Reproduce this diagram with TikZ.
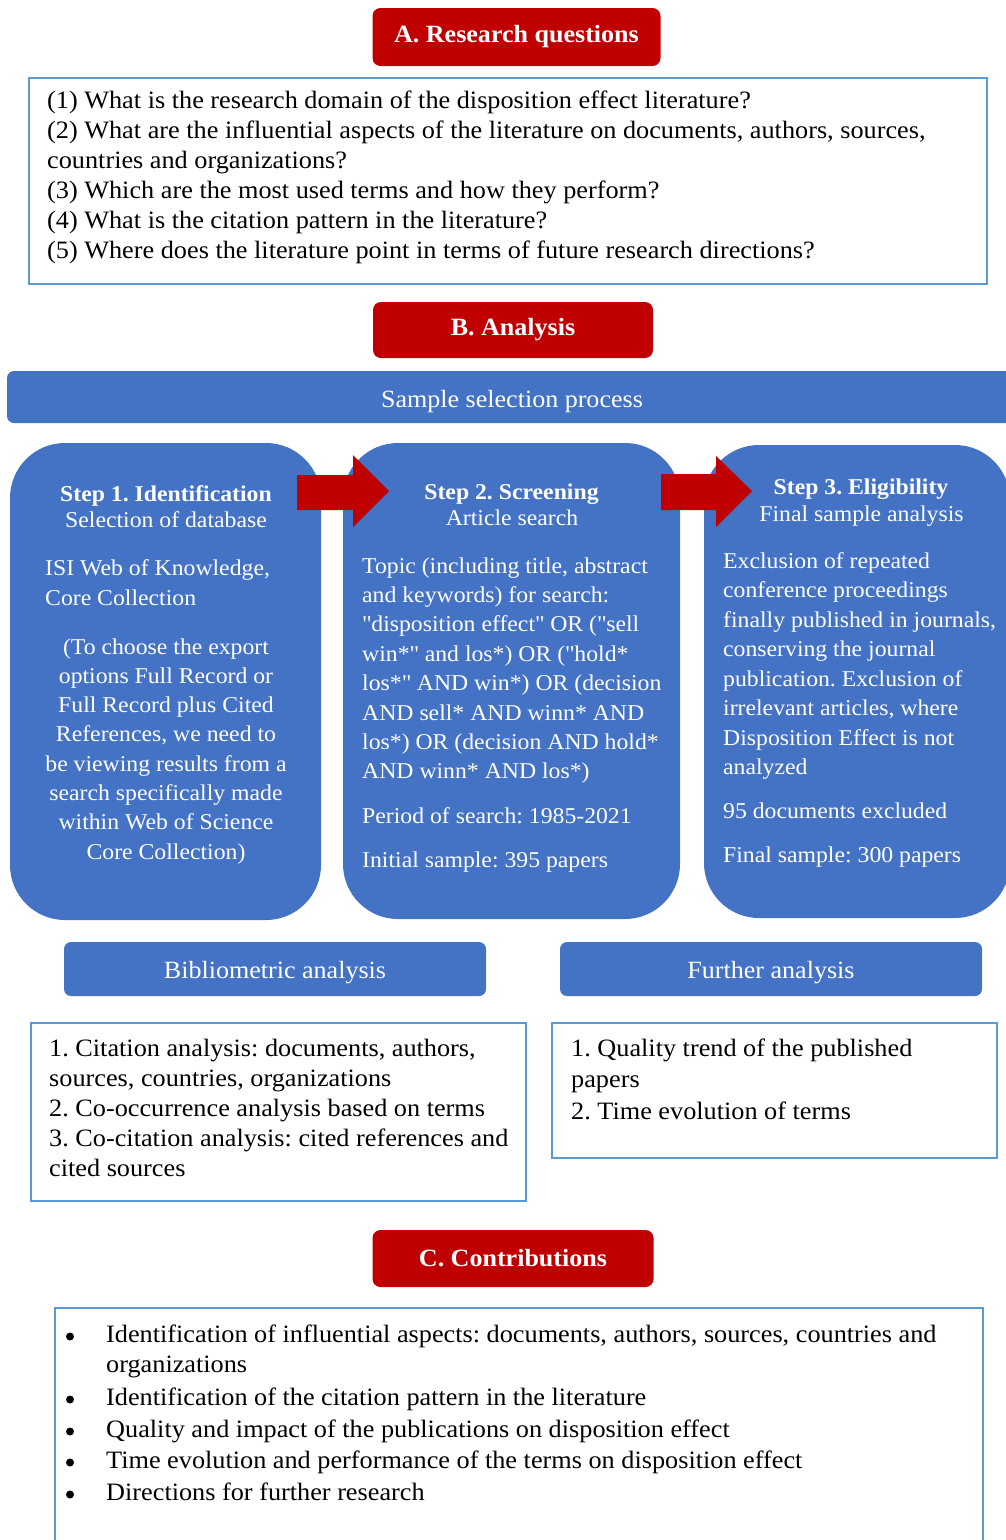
\documentclass[tikz,border=0pt]{standalone}
\usepackage{fontspec}
\setmainfont{Liberation Serif}[FakeStretch=1.05]
\definecolor{hdrred}{HTML}{C00000}
\definecolor{boxblue}{HTML}{4472C4}
\definecolor{lineblue}{HTML}{5B9BD5}
\newcommand\fsz[2]{\fontsize{#1}{#2}\selectfont}
\newcommand\qd{\textquotedbl}
\newcommand\lblk[4]{\parbox[t]{#1}{\raggedright\fsz{#2}{#3}#4\par}}
\newcommand\cblk[4]{\parbox[t]{#1}{\centering\fsz{#2}{#3}#4\par}}
\frenchspacing
\begin{document}
\frenchspacing
\begin{tikzpicture}[x=1pt,y=-1pt,
  hdr/.style={fill=hdrred, rounded corners=8pt, inner sep=0pt, text=white, font=\fsz{24.8}{28}\bfseries},
  bar/.style={fill=boxblue, rounded corners=7pt, inner sep=0pt},
  stepbox/.style={fill=boxblue, rounded corners=55pt, inner sep=0pt},
  frame/.style={draw=lineblue, line width=1.3pt, inner sep=0pt},
  txt/.style={inner sep=0pt, anchor=base west},
  ctxt/.style={inner sep=0pt, anchor=base},
  wtxt/.style={txt, text=white},
  wctxt/.style={ctxt, text=white},
  redarrow/.style={fill=hdrred},
  bul/.style={circle, fill=black, inner sep=0pt, minimum size=8pt}
]
\clip (0,0) rectangle (1006,1540);
\fill[white] (0,0) rectangle (1006,1540);

% ---------- A ----------
\node[hdr, minimum width=288, minimum height=58] (hA) at (516.5,37) {A. Research questions};
\node[frame, minimum width=958, minimum height=206] (qbox) at (508,181) {};
\node[txt] (qtext) at (47,108) {\lblk{940pt}{25}{30pt}{%
(1) What is the research domain of the disposition effect literature?\\
(2) What are the influential aspects of the literature on documents, authors, sources,\\
countries and organizations?\\
(3) Which are the most used terms and how they perform?\\
(4) What is the citation pattern in the literature?\\
(5) Where does the literature point in terms of future research directions?}};

% ---------- B ----------
\node[hdr, minimum width=280, minimum height=56] (hB) at (513,330) {B. Analysis};
\node[bar, minimum width=1013, minimum height=52] (sbar) at (513.5,397) {};
\node[wctxt, font=\fsz{24.8}{28}] (stxt) at (512,407) {Sample selection process};

\node[stepbox, minimum width=311, minimum height=477] (s1) at (165.5,681.5) {};
\node[stepbox, minimum width=337, minimum height=476] (s2) at (511.5,681) {};
\node[stepbox, minimum width=306, minimum height=473] (s3) at (857,681.5) {};

% arrows
\fill[redarrow] (297,475) -- (353,475) -- (353,455) -- (389,491) -- (353,527) -- (353,510) -- (297,510) -- cycle;
\fill[redarrow] (661,474) -- (716,474) -- (716,456) -- (752,491) -- (716,527) -- (716,510) -- (661,510) -- cycle;

% step 1
\node[wctxt] (s1t) at (166,501) {\fsz{22.6}{26}\bfseries Step 1. Identification};
\node[wctxt] (s1s) at (166,527) {\fsz{22.6}{26}Selection of database};
\node[wtxt] (s1a) at (45,575) {\lblk{270pt}{22.6}{30pt}{ISI Web of Knowledge,\\Core Collection}};
\node[wctxt] (s1b) at (166,654) {\cblk{300pt}{22.6}{29.3pt}{(To choose the export\\
options Full Record or\\
Full Record plus Cited\\
References, we need to\\
be viewing results from a\\
search specifically made\\
within Web of Science\\
Core Collection)}};

% step 2
\node[wctxt] (s2t) at (511.5,499) {\fsz{22.6}{26}\bfseries Step 2. Screening};
\node[wctxt] (s2s) at (512,525) {\fsz{22.6}{26}Article search};
\node[wtxt] (s2a) at (362,573) {\lblk{320pt}{22.6}{29.4pt}{Topic (including title, abstract\\
and keywords) for search:\\
\qd disposition effect\qd{} OR (\qd sell\\
win*\qd{} and los*) OR (\qd hold*\\
los*\qd{} AND win*) OR (decision\\
AND sell* AND winn* AND\\
los*) OR (decision AND hold*\\
AND winn* AND los*)}};
\node[wtxt] (s2p) at (362,823) {\fsz{22.6}{26}Period of search: 1985-2021};
\node[wtxt] (s2i) at (362,867) {\fsz{22.6}{26}Initial sample: 395 papers};

% step 3
\node[wctxt] (s3t) at (861,494) {\fsz{22.6}{26}\bfseries Step 3. Eligibility};
\node[wctxt] (s3s) at (861.5,521) {\fsz{22.6}{26}Final sample analysis};
\node[wtxt] (s3a) at (723,568) {\lblk{300pt}{22.6}{29.5pt}{Exclusion of repeated\\
conference proceedings\\
finally published in journals,\\
conserving the journal\\
publication. Exclusion of\\
irrelevant articles, where\\
Disposition Effect is not\\
analyzed}};
\node[wtxt] (s3e) at (723,818) {\fsz{22.6}{26}95 documents excluded};
\node[wtxt] (s3f) at (723,862) {\fsz{22.6}{26}Final sample: 300 papers};

% analysis bars
\node[bar, minimum width=422, minimum height=54] (bib) at (275,969) {};
\node[wctxt, font=\fsz{24.8}{28}] (bibt) at (275,978) {Bibliometric analysis};
\node[bar, minimum width=422, minimum height=54] (fur) at (771,969) {};
\node[wctxt, font=\fsz{24.8}{28}] (furt) at (771,978) {Further analysis};

\node[frame, minimum width=495, minimum height=178] (lbox) at (278.5,1112) {};
\node[txt] (ltext) at (49,1056) {\lblk{490pt}{25}{30pt}{%
1. Citation analysis: documents, authors,\\
sources, countries, organizations\\
2. Co-occurrence analysis based on terms\\
3. Co-citation analysis: cited references and\\
cited sources}};
\node[frame, minimum width=445, minimum height=135] (rbox) at (774.5,1090.5) {};
\node[txt] (rtext) at (571,1056) {\lblk{420pt}{25}{31.5pt}{%
1. Quality trend of the published\\
papers\\
2. Time evolution of terms}};

% ---------- C ----------
\node[hdr, minimum width=281, minimum height=57] (hC) at (513,1258.5) {C. Contributions};
\node[frame, minimum width=928, minimum height=240] (cbox) at (519,1428) {};
\node[bul] (b1) at (70,1336.5) {};
\node[bul] (b2) at (70,1399.5) {};
\node[bul] (b3) at (70,1431.5) {};
\node[bul] (b4) at (70,1462.5) {};
\node[bul] (b5) at (70,1494.5) {};
\node[txt] (c1) at (106,1342) {\lblk{890pt}{25}{30pt}{Identification of influential aspects: documents, authors, sources, countries and\\organizations}};
\node[txt] (c2) at (106,1405) {\fsz{25}{28}Identification of the citation pattern in the literature};
\node[txt] (c3) at (106,1437) {\fsz{25}{28}Quality and impact of the publications on disposition effect};
\node[txt] (c4) at (106,1468) {\fsz{25}{28}Time evolution and performance of the terms on disposition effect};
\node[txt] (c5) at (106,1500) {\fsz{25}{28}Directions for further research};
\end{tikzpicture}
\end{document}
